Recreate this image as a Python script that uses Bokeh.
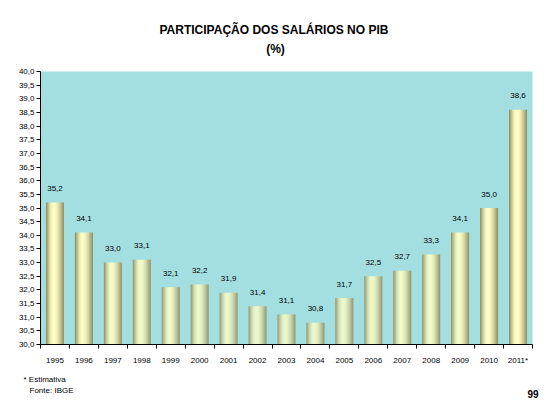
import numpy as np
from bokeh.plotting import figure
from bokeh.models import ColumnDataSource, FixedTicker, Range1d, Title, LinearAxis
from bokeh.core.properties import value
from bokeh.embed import file_html
from bokeh.resources import INLINE

years = ["1995", "1996", "1997", "1998", "1999", "2000", "2001", "2002", "2003",
         "2004", "2005", "2006", "2007", "2008", "2009", "2010", "2011*"]
shares = [35.2, 34.1, 33.0, 33.1, 32.1, 32.2, 31.9, 31.4, 31.1,
          30.8, 31.7, 32.5, 32.7, 33.3, 34.1, 35.0, 38.6]
y_ticks = [30.0 + 0.5 * i for i in range(21)]
title_main = "PARTICIPAÇÃO DOS SALÁRIOS NO PIB"
title_unit = "(%)"
note_1 = "* Estimativa"
note_2 = "Fonte: IBGE"
page_no = "99"

FONT = "Liberation Sans"
n = len(years)
xs = np.arange(1, n + 1)

W, H = 557, 419
BL, BR, BT, BB = 40, 25, 71, 75

p = figure(width=W, height=H, output_backend="svg", toolbar_location=None,
           x_range=Range1d(0.5, n + 0.5), y_range=Range1d(30, 40),
           min_border_left=BL, min_border_right=BR, min_border_top=BT,
           min_border_bottom=BB, title=None)
p.background_fill_color = "#A3DFE0"
p.border_fill_color = "white"
p.outline_line_color = None
p.grid.visible = False

# gradient bars (cylinder shading) as thin stripes
bar_w = 0.62
nstrip = 18
dark_l = np.array([0x88, 0x86, 0x58])
dark_r = np.array([0x8C, 0x8A, 0x5E])
light = np.array([0xFF, 0xFF, 0xC6])
peak = 0.42
for i in range(nstrip):
    t = (i + 0.5) / nstrip
    if t < peak:
        s = np.sin(np.pi / 2 * t / peak)
        base = dark_l
    else:
        s = np.cos(np.pi / 2 * (t - peak) / (1 - peak))
        base = dark_r
    c = base + s * (light - base)
    col = "#%02x%02x%02x" % tuple(int(round(v)) for v in c)
    off = -bar_w / 2 + (i + 0.5) * bar_w / nstrip
    src = ColumnDataSource(dict(x=xs + off, top=shares))
    p.vbar(x="x", top="top", bottom=30, width=bar_w / nstrip * 1.08, source=src,
           fill_color=col, line_color=None)

# value labels
lab_src = ColumnDataSource(dict(x=xs, y=shares,
                                t=[f"{v:.1f}".replace(".", ",") for v in shares]))
p.text(x="x", y="y", text="t", source=lab_src, y_offset=-14,
       text_align="center", text_baseline="middle",
       text_font=value(FONT), text_font_size="8px", text_color="black")

# x axis
xa = p.xaxis[0]
xa.ticker = FixedTicker(ticks=list(xs), minor_ticks=[k + 0.5 for k in range(n + 1)])
xa.major_label_overrides = {int(x): y for x, y in zip(xs, years)}
xa.major_tick_line_color = None
xa.major_tick_in = 0
xa.major_tick_out = 0
xa.minor_tick_in = 0
xa.minor_tick_out = 4
xa.minor_tick_line_color = "black"
xa.axis_line_color = "black"
xa.major_label_standoff = 7
xa.major_label_text_font = FONT
xa.major_label_text_font_size = "8px"
xa.major_label_text_color = "black"

# y axis
ya = p.yaxis[0]
ya.ticker = FixedTicker(ticks=y_ticks, minor_ticks=[])
ya.major_label_overrides = {t: f"{t:.1f}".replace(".", ",") for t in y_ticks}
ya.major_tick_in = 0
ya.major_tick_out = 4
ya.major_tick_line_color = "black"
ya.minor_tick_line_color = None
ya.axis_line_color = "black"
ya.major_label_standoff = 2
ya.major_label_text_font = FONT
ya.major_label_text_font_size = "8px"
ya.major_label_text_color = "black"

# unit line "(%)" as a label on an auxiliary top axis in page-pixel units
title_cx = 275
p.extra_x_ranges = {"page": Range1d(BL, W - BR)}
unit_ax = LinearAxis(x_range_name="page", ticker=FixedTicker(ticks=[title_cx], minor_ticks=[]),
                     major_label_overrides={title_cx: title_unit})
unit_ax.axis_line_color = None
unit_ax.major_tick_line_color = None
unit_ax.minor_tick_line_color = None
unit_ax.major_tick_in = 0
unit_ax.major_tick_out = 0
unit_ax.major_label_standoff = 16
unit_ax.major_label_text_font = FONT
unit_ax.major_label_text_font_size = "12px"
unit_ax.major_label_text_font_style = "bold"
unit_ax.major_label_text_color = "black"
p.add_layout(unit_ax, "above")

# main title above it
p.add_layout(Title(text=title_main, align="left", offset=119, standoff=4,
                   text_font=FONT, text_font_size="12px",
                   text_font_style="bold", text_color="black"), "above")

# notes below
p.add_layout(Title(text=note_1, align="left", offset=-17, standoff=10,
                   text_font=FONT, text_font_size="8px",
                   text_font_style="normal", text_color="black"), "below")
p.add_layout(Title(text=note_2, align="left", offset=-11, standoff=-10,
                   text_font=FONT, text_font_size="8px",
                   text_font_style="normal", text_color="black"), "below")
p.add_layout(Title(text=page_no, align="right", offset=-6, standoff=-4,
                   text_font=FONT, text_font_size="10px",
                   text_font_style="bold", text_color="black"), "below")

open("out.html", "w").write(file_html(p, INLINE))
